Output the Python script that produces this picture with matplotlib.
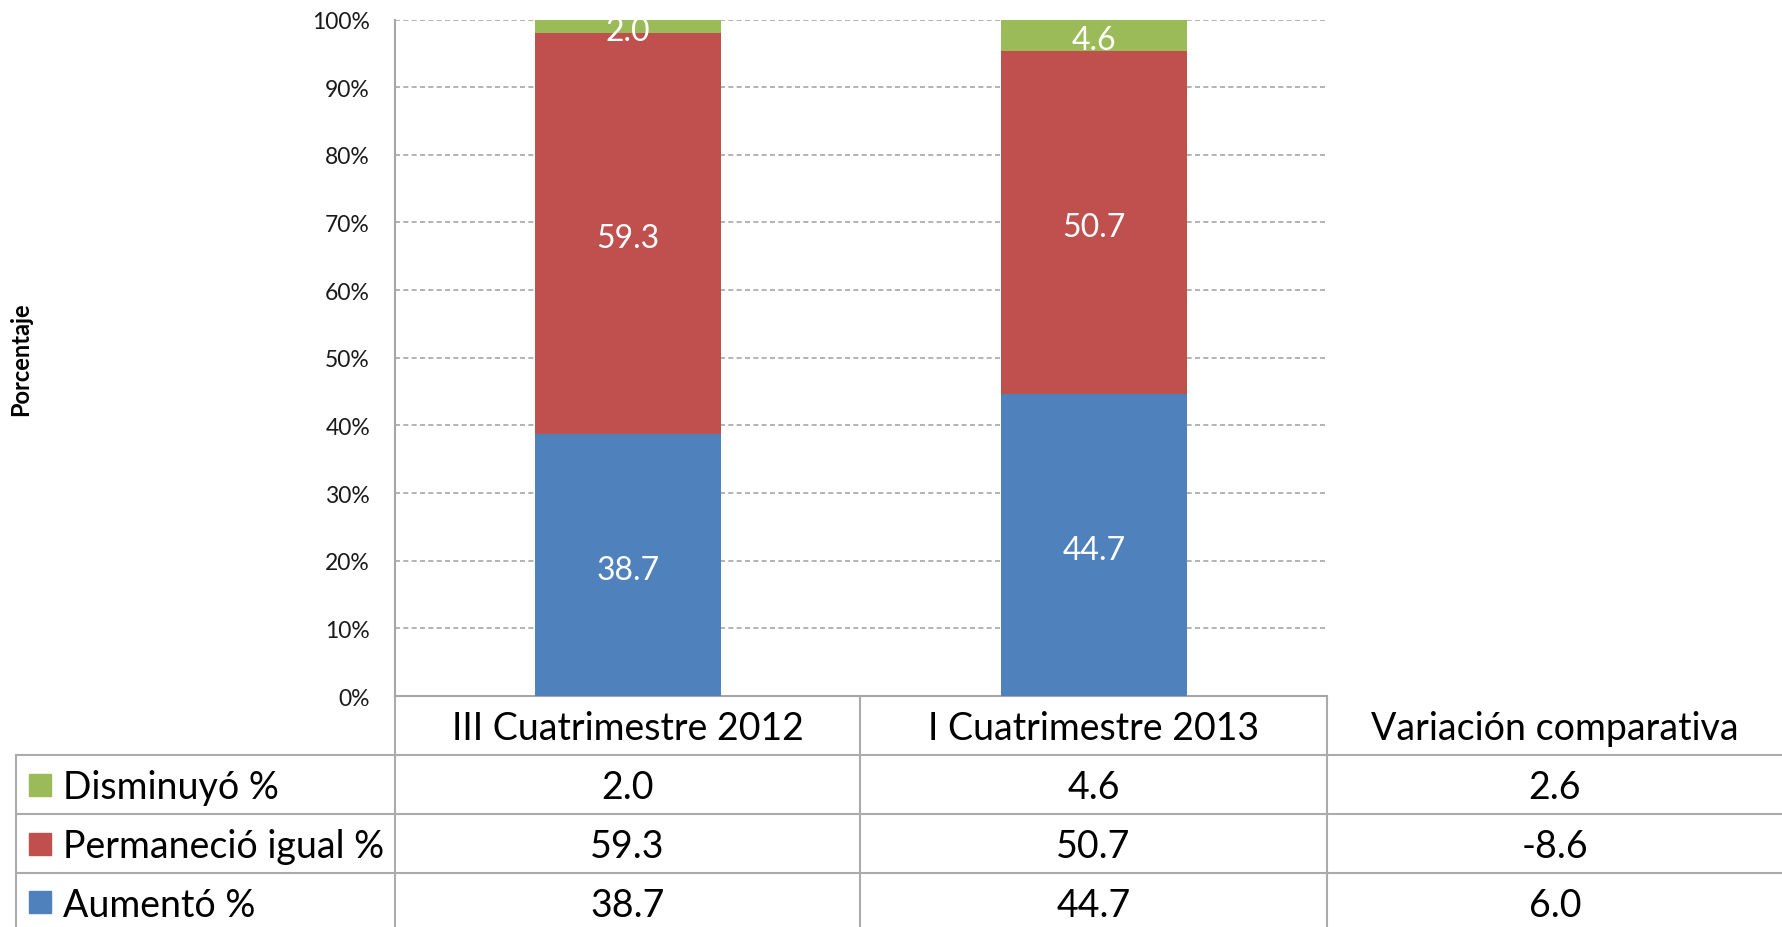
import matplotlib
matplotlib.use("Agg")
import matplotlib.pyplot as plt
from matplotlib.patches import Rectangle
from matplotlib.ticker import FuncFormatter, MultipleLocator

# ---- data ----
categories = ["III Cuatrimestre 2012", "I Cuatrimestre 2013"]
extra_column = "Variación comparativa"
series_names = ["Disminuyó %", "Permaneció igual %", "Aumentó %"]
disminuyo = [2.0, 4.6]
permanecio = [59.3, 50.7]
aumento = [38.7, 44.7]
variacion = [2.6, -8.6, 6.0]   # order: Disminuyó, Permaneció, Aumentó
y_label = "Porcentaje"

colors = {"Disminuyó %": "#9BBB59", "Permaneció igual %": "#C0504D", "Aumentó %": "#4F81BD"}
FONT = "Lato"
plt.rcParams["font.family"] = [FONT, "DejaVu Sans"]

W, H = 1783, 928
fig = plt.figure(figsize=(W / 100, H / 100), dpi=100)

# axes in pixel coordinates
ax_l, ax_r, ax_t, ax_b = 395, 1327, 20.5, 697
ax = fig.add_axes([ax_l / W, 1 - ax_b / H, (ax_r - ax_l) / W, (ax_b - ax_t) / H])

x = list(range(len(categories)))
bw = 0.4
b1 = ax.bar(x, aumento, bw, color=colors["Aumentó %"], zorder=3)
b2 = ax.bar(x, permanecio, bw, bottom=aumento, color=colors["Permaneció igual %"], zorder=3)
bottom3 = [a + p for a, p in zip(aumento, permanecio)]
b3 = ax.bar(x, disminuyo, bw, bottom=bottom3, color=colors["Disminuyó %"], zorder=3)

for bars, vals in ((b1, aumento), (b2, permanecio), (b3, disminuyo)):
    anns = ax.bar_label(bars, labels=[f"{v:.1f}" for v in vals], label_type="center",
                        color="white", fontsize=23, zorder=4)
    for a in anns:
        a.xyann = (0, -3.5)

ax.set_xlim(-0.5, len(categories) - 0.5)
ax.set_ylim(0, 100)
ax.yaxis.set_major_locator(MultipleLocator(10))
ax.yaxis.set_major_formatter(FuncFormatter(lambda v, p: f"{v:.0f}%"))
ax.tick_params(axis="y", length=0, pad=18, labelsize=16.5, labelcolor="#1a1a1a")
ax.set_xticks([])
for yv in range(10, 101, 10):
    ax.axhline(yv, color="#A6A6A6", lw=1.2, ls=(0, (3, 2)), zorder=1)
for s in ("top", "right"):
    ax.spines[s].set_visible(False)
for s in ("left", "bottom"):
    ax.spines[s].set_color("#A6A6A6")
    ax.spines[s].set_linewidth(1.5)

fig.text(21 / W, 1 - 359 / H, y_label, rotation=90, fontsize=17, fontweight="bold",
         ha="center", va="center")

# ---- data table drawn beneath the plot ----
tab = fig.add_axes([0, 0, 1, 1], zorder=-1)
tab.set_xlim(0, W)
tab.set_ylim(H, 0)
tab.axis("off")

lc = "#ABABAB"
lw = 1.5
col_edges = [16, ax_l, 860, ax_r, W]
row_edges = [ax_b, 756, 815, 874, 933]

for yv in row_edges[1:4]:
    tab.plot([col_edges[0], W], [yv, yv], color=lc, lw=lw)
tab.plot([col_edges[0], col_edges[0]], [row_edges[1], H], color=lc, lw=lw)
for xv in col_edges[1:4]:
    tab.plot([xv, xv], [ax_b, H], color=lc, lw=lw)

fs_tab = 27
dy = 3
headers = categories + [extra_column]
for j, h in enumerate(headers):
    cx = (col_edges[j + 1] + col_edges[j + 2]) / 2
    tab.text(cx, (row_edges[0] + row_edges[1]) / 2 + dy, h, ha="center", va="center",
             fontsize=fs_tab, color="black")

row_vals = [
    [disminuyo[0], disminuyo[1], variacion[0]],
    [permanecio[0], permanecio[1], variacion[1]],
    [aumento[0], aumento[1], variacion[2]],
]
for i, name in enumerate(series_names):
    cy = (row_edges[i + 1] + row_edges[i + 2]) / 2
    if i == 2:
        cy = 903
    tab.add_patch(Rectangle((29, cy - 11), 22, 22, color=colors[name]))
    tab.text(63, cy + dy, name, ha="left", va="center", fontsize=fs_tab, color="black")
    for j, v in enumerate(row_vals[i]):
        cx = (col_edges[j + 1] + col_edges[j + 2]) / 2
        tab.text(cx, cy + dy, f"{v:.1f}", ha="center", va="center", fontsize=fs_tab, color="black")

fig.savefig("out.png", dpi=100)
